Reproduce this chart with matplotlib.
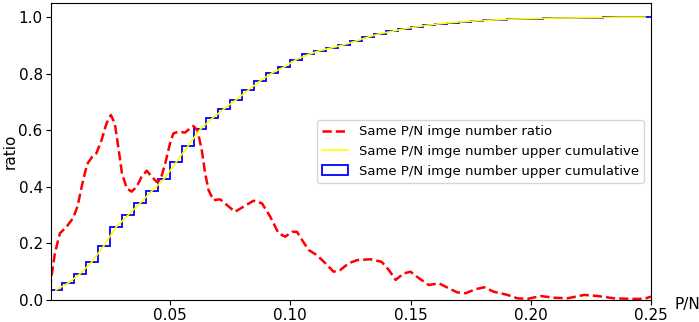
#Same P/N image number ratio and its upper cumulative curve
import matplotlib
matplotlib.use("Agg")
import matplotlib.pyplot as plt
from matplotlib.patches import Patch
import numpy as np

# red dashed curve: ratio
ratio_x = [0.0, 0.0021, 0.0042, 0.007, 0.0097, 0.0115, 0.0135, 0.0155, 0.0175,
           0.0194, 0.0215, 0.0236, 0.0254, 0.027, 0.0285, 0.030, 0.032, 0.034,
           0.0361, 0.0382, 0.0403, 0.0424, 0.0444, 0.046, 0.048, 0.050, 0.0514,
           0.0535, 0.0563, 0.0583, 0.0597, 0.0614, 0.0632, 0.0646, 0.066, 0.068,
           0.0708, 0.0736, 0.077, 0.0806, 0.0847, 0.0882, 0.0917, 0.0951, 0.0979,
           0.1007, 0.1028, 0.1049, 0.1076, 0.111, 0.1146, 0.118, 0.1208, 0.1243,
           0.1278, 0.1333, 0.138, 0.141, 0.1438, 0.1472, 0.150, 0.1535, 0.1576,
           0.1618, 0.166, 0.1694, 0.1729, 0.177, 0.1806, 0.1847, 0.1903, 0.1944,
           0.1986, 0.2042, 0.2097, 0.2153, 0.2222, 0.2278, 0.2347, 0.2417, 0.2472,
           0.25]
ratio_y = [0.04, 0.165, 0.236, 0.259, 0.29, 0.33, 0.41, 0.48, 0.505,
           0.519, 0.565, 0.625, 0.654, 0.625, 0.54, 0.448, 0.395, 0.383,
           0.40, 0.436, 0.457, 0.436, 0.418, 0.424, 0.483, 0.554, 0.589,
           0.595, 0.592, 0.607, 0.615, 0.60, 0.53, 0.448, 0.389, 0.353,
           0.356, 0.336, 0.312, 0.33, 0.351, 0.342, 0.294, 0.236, 0.224,
           0.241, 0.241, 0.212, 0.177, 0.159, 0.13, 0.10, 0.106, 0.13,
           0.141, 0.144, 0.135, 0.106, 0.071, 0.094, 0.10, 0.077, 0.053,
           0.059, 0.041, 0.027, 0.024, 0.038, 0.045, 0.029, 0.018, 0.006,
           0.004, 0.014, 0.008, 0.006, 0.018, 0.014, 0.006, 0.004, 0.004,
           0.012]

# cumulative ratio per P/N bin (bin width 0.005)
cum_vals = [0.035, 0.059, 0.092, 0.135, 0.192, 0.257, 0.300, 0.342, 0.386, 0.428,
            0.487, 0.545, 0.603, 0.642, 0.676, 0.708, 0.742, 0.775, 0.803, 0.824,
            0.850, 0.868, 0.882, 0.892, 0.903, 0.916, 0.930, 0.942, 0.950, 0.959,
            0.966, 0.972, 0.977, 0.981, 0.984, 0.987, 0.989, 0.991, 0.993, 0.994,
            0.995, 0.996, 0.997, 0.997, 0.998, 0.998, 0.999, 1.000, 1.000, 1.000]
bin_edges = np.linspace(0, 0.25, len(cum_vals) + 1)
bin_mid = (bin_edges[:-1] + bin_edges[1:]) / 2

lbl_ratio = "Same P/N imge number ratio"
lbl_cum = "Same P/N imge number upper cumulative"

plt.rcParams['font.size'] = 11

fig = plt.figure(figsize=(6.99, 3.22), dpi=100)
ax = fig.add_axes([51/699, 22/322, 600/699, 297/322])

l1, = ax.plot(ratio_x, ratio_y, 'r--', lw=1.8)
l2, = ax.plot(bin_mid, cum_vals, color='yellow', lw=1.2, zorder=3)
ax.stairs(cum_vals, bin_edges, color='b', lw=1.3, baseline=None)
box = Patch(facecolor='none', edgecolor='b', lw=1.3)

ax.set_xlim(0.0005, 0.25)
ax.set_ylim(0, 1.05)
ax.set_xticks([0.05, 0.10, 0.15, 0.20, 0.25])
ax.set_xticklabels(["0.05", "0.10", "0.15", "0.20", "0.25"])
ax.set_yticks([0.0, 0.2, 0.4, 0.6, 0.8, 1.0])
ax.tick_params(pad=2.5)
ax.set_ylabel("ratio")
ax.yaxis.set_label_coords(-0.055, 0.5)
ax.set_xlabel("P/N")
ax.xaxis.set_label_coords(1.06, 0.01)

ax.legend([l1, l2, box], [lbl_ratio, lbl_cum, lbl_cum],
          loc='center right', fontsize=9.5)

fig.savefig("out.png", dpi=100)
